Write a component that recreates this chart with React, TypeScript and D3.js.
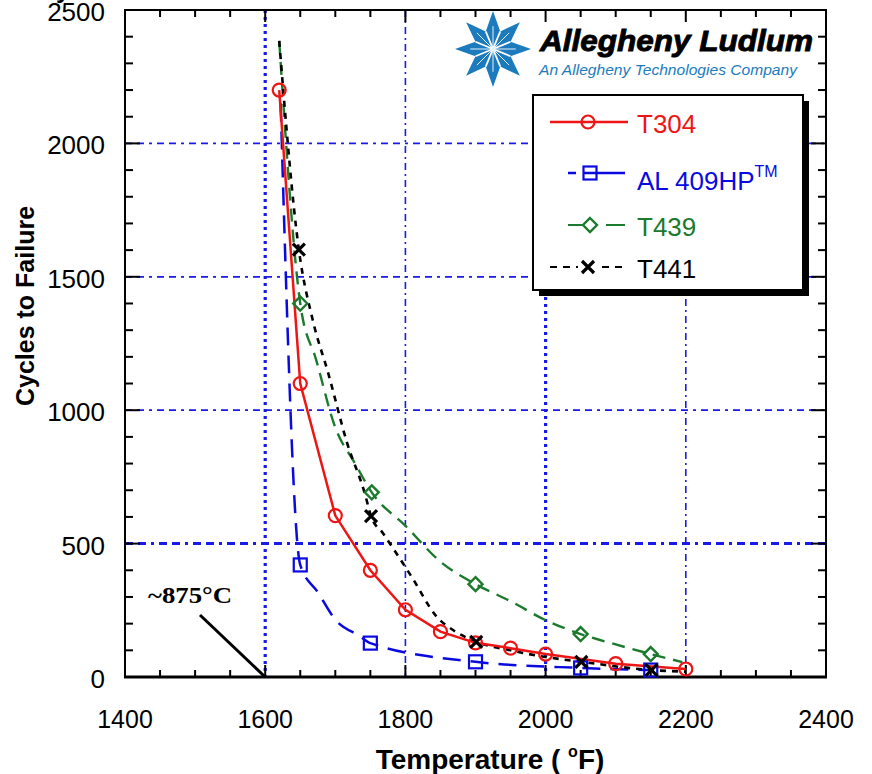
import React from 'react';
import * as d3 from 'd3';

const W = 872, H = 774;
const L = 125, R = 826, T = 10, B = 677;

const xTicks = [1400, 1600, 1800, 2000, 2200, 2400];
const yTicks = [0, 500, 1000, 1500, 2000, 2500];
const xGrid = [1600, 1800, 2000, 2200];
const yGrid = [500, 1000, 1500, 2000];

// T304
const t304Temp = [1620, 1650, 1700, 1750, 1800, 1850, 1900, 1950, 2000, 2100, 2200];
const t304Cycles = [2200, 1100, 605, 400, 252, 170, 128, 108, 86, 50, 30];

// AL 409HP
const al409Temp = [1622, 1650, 1675, 1700, 1735, 1750, 1900, 2050, 2150];
const al409Cycles = [2150, 420, 318, 215, 153, 127, 57, 34, 26];
const al409Marked = [false, true, false, false, false, true, true, true, true];

// T439
const t439Temp = [1620, 1650, 1673, 1700, 1728, 1752, 1800, 1850, 1900, 1950, 2000, 2050, 2100, 2150, 2195];
const t439Cycles = [2384, 1400, 1186, 935, 801, 692, 567, 432, 348, 284, 213, 161, 122, 86, 56];
const t439Marked = [false, true, false, false, false, true, false, false, true, false, false, true, false, true, false];

// T441
const t441Temp = [1620, 1648, 1668, 1690, 1717, 1742, 1751, 1768, 1809, 1845, 1868, 1901, 1950, 2000, 2051, 2151, 2200];
const t441Cycles = [2384, 1602, 1336, 1138, 876, 689, 603, 539, 375, 225, 176, 132, 100, 75, 57, 26, 20];
const t441Marked = [false, true, false, false, false, false, true, false, false, false, false, true, false, false, true, true, false];

const RED = '#ee1515';
const BLUE = '#0a0ae0';
const GREEN = '#1c7a2c';
const GRID = '#1a1ae8';
const LOGO = '#1b7bbd';

const x = d3.scaleLinear().domain([1400, 2400]).range([L, R]);
const y = d3.scaleLinear().domain([0, 2500]).range([B, T]);

function pts(t: number[], c: number[]) {
  return t.map((v, i) => [x(v), y(c[i])] as [number, number]);
}

const circle = (cx: number, cy: number, col: string, k: string) => (
  <circle key={k} cx={cx} cy={cy} r={6.5} fill="none" stroke={col} strokeWidth={2.2} />
);
const square = (cx: number, cy: number, col: string, k: string) => (
  <rect key={k} x={cx - 6.5} y={cy - 6.5} width={13} height={13} fill="none" stroke={col} strokeWidth={2.2} />
);
const diamond = (cx: number, cy: number, col: string, k: string) => (
  <path key={k} d={`M${cx},${cy - 7}L${cx + 7},${cy}L${cx},${cy + 7}L${cx - 7},${cy}Z`} fill="none" stroke={col} strokeWidth={2.4} />
);
const cross = (cx: number, cy: number, col: string, k: string) => (
  <path key={k} d={`M${cx - 6},${cy - 6}L${cx + 6},${cy + 6}M${cx - 6},${cy + 6}L${cx + 6},${cy - 6}`} fill="none" stroke={col} strokeWidth={3.2} />
);

function Star({ cx, cy, r }: { cx: number; cy: number; r: number }) {
  const n = 8;
  const ri = r * 0.5;
  const verts: string[] = [];
  const inner: [number, number][] = [];
  for (let i = 0; i < n * 2; i++) {
    const a = (Math.PI * i) / n - Math.PI / 2;
    const rr = i % 2 === 0 ? r : ri;
    verts.push(`${cx + rr * Math.cos(a)},${cy + rr * Math.sin(a)}`);
    if (i % 2 === 1) inner.push([cx + rr * Math.cos(a), cy + rr * Math.sin(a)]);
  }
  const tips: [number, number][] = [];
  for (let i = 0; i < n; i++) {
    const a = (2 * Math.PI * i) / n - Math.PI / 2;
    tips.push([cx + r * 0.6 * Math.cos(a), cy + r * 0.6 * Math.sin(a)]);
  }
  return (
    <g>
      <polygon points={verts.join(' ')} fill={LOGO} />
      {inner.map((p, i) => (
        <line key={'i' + i} x1={cx} y1={cy} x2={p[0]} y2={p[1]} stroke="#fff" strokeWidth={1.8} />
      ))}
      {tips.map((p, i) => (
        <line key={'t' + i} x1={cx} y1={cy} x2={p[0]} y2={p[1]} stroke="#e6f2fa" strokeWidth={1} />
      ))}
    </g>
  );
}

export default function App() {
  const lin = d3.line().curve(d3.curveLinear);
  const mono = d3.line().curve(d3.curveMonotoneX);

  const redP = pts(t304Temp, t304Cycles);
  const blueP = pts(al409Temp, al409Cycles);
  const greenP = pts(t439Temp, t439Cycles);
  const blackP = pts(t441Temp, t441Cycles);

  const xMinor = d3.range(1400, 2401, 50);
  const yMinor = d3.range(0, 2501, 100);

  const font = "'Liberation Sans', Arial, sans-serif";

  return (
    <svg width={W} height={H} style={{ position: 'absolute', left: 0, top: 0, background: '#fff' }} fontFamily={font}>
      <rect x={0} y={0} width={W} height={H} fill="#fff" />

      {/* grid */}
      {xGrid.map((v) => {
        const heavy = v === 1600 || v === 2000;
        return (
          <line key={'xg' + v} x1={x(v)} x2={x(v)} y1={T} y2={B} stroke={GRID}
            strokeWidth={heavy ? 3.2 : 1.6} strokeDasharray={heavy ? '3,4' : '7,4,2,4'} />
        );
      })}
      {yGrid.map((v) => {
        const heavy = v === 500;
        return (
          <line key={'yg' + v} x1={L} x2={R} y1={y(v)} y2={y(v)} stroke={GRID}
            strokeWidth={heavy ? 3 : 1.8} strokeDasharray={heavy ? '8,5,8,5,3,5' : '7,5,7,5,3,5'} />
        );
      })}

      {/* logo */}
      <rect x={447} y={T + 1} width={R - 448} height={82} fill="#fff" />
      <Star cx={493} cy={49} r={38} />
      <text x={540} y={51} fontSize={30} fontWeight="bold" fontStyle="italic" fill="#000" stroke="#000" strokeWidth={0.9}
        textLength={273} lengthAdjust="spacingAndGlyphs">Allegheny Ludlum</text>
      <text x={539} y={75} fontSize={14.5} fontStyle="italic" fill={LOGO}
        textLength={258} lengthAdjust="spacingAndGlyphs">An Allegheny Technologies Company</text>

      {/* legend */}
      <rect x={539} y={101} width={270} height={195} fill="#000" />
      <rect x={533} y={95} width={270} height={195} fill="#fff" stroke="#000" strokeWidth={2} />
      <g>
        <line x1={550} x2={628} y1={122} y2={122} stroke={RED} strokeWidth={2.5} />
        {circle(588, 122, RED, 'lc')}
        <text x={637} y={133} fontSize={26} fill={RED}>T304</text>

        <line x1={568} x2={576} y1={173} y2={173} stroke={BLUE} strokeWidth={2.5} />
        <line x1={583} x2={625} y1={173} y2={173} stroke={BLUE} strokeWidth={2.5} />
        {square(590, 173, BLUE, 'ls')}
        <text x={637} y={190} fontSize={26} fill={BLUE}>AL 409HP<tspan fontSize={16} dy={-13}>TM</tspan></text>

        <line x1={568} x2={583} y1={225} y2={225} stroke={GREEN} strokeWidth={2} />
        <line x1={606} x2={625} y1={225} y2={225} stroke={GREEN} strokeWidth={2} />
        {diamond(590, 225, GREEN, 'ld')}
        <text x={637} y={236} fontSize={26} fill={GREEN}>T439</text>

        <line x1={550} x2={625} y1={267} y2={267} stroke="#000" strokeWidth={2} strokeDasharray="7,6" />
        <rect x={578} y={259} width={20} height={16} fill="#fff" />
        {cross(588, 267, '#000', 'lx')}
        <text x={637} y={278} fontSize={26} fill="#000">T441</text>
      </g>

      {/* frame and ticks */}
      {xMinor.map((v) => {
        const len = v % 200 === 0 ? 12 : 7;
        return (
          <g key={'xt' + v}>
            <line x1={x(v)} x2={x(v)} y1={B} y2={B - len} stroke="#000" strokeWidth={2} />
            <line x1={x(v)} x2={x(v)} y1={T} y2={T + len} stroke="#000" strokeWidth={2} />
          </g>
        );
      })}
      {yMinor.map((v) => {
        const len = v % 500 === 0 ? 15 : 8;
        return (
          <g key={'yt' + v}>
            <line x1={L} x2={L + len} y1={y(v)} y2={y(v)} stroke="#000" strokeWidth={2} />
            <line x1={R} x2={R - len} y1={y(v)} y2={y(v)} stroke="#000" strokeWidth={2} />
          </g>
        );
      })}
      <rect x={L} y={T} width={R - L} height={B - T} fill="none" stroke="#000" strokeWidth={2} />
      <line x1={L - 1} x2={R + 1} y1={B} y2={B} stroke="#000" strokeWidth={3} />

      {/* series */}
      <path d={mono(blueP) || ''} fill="none" stroke={BLUE} strokeWidth={2.5} strokeDasharray="18,10" />
      <path d={mono(greenP) || ''} fill="none" stroke={GREEN} strokeWidth={2.4} strokeDasharray="13,8" />
      <path d={mono(blackP) || ''} fill="none" stroke="#000" strokeWidth={2.6} strokeDasharray="6,6" />
      <path d={lin(redP) || ''} fill="none" stroke={RED} strokeWidth={2.5} />

      {blueP.map((p, i) => (al409Marked[i] ? square(p[0], p[1], BLUE, 'bs' + i) : null))}
      {greenP.map((p, i) => (t439Marked[i] ? diamond(p[0], p[1], GREEN, 'gd' + i) : null))}
      {redP.map((p, i) => circle(p[0], p[1], RED, 'rc' + i))}
      {blackP.map((p, i) => (t441Marked[i] ? cross(p[0], p[1], '#000', 'kx' + i) : null))}

      {/* tick labels */}
      {yTicks.map((v) => (
        <text key={'yl' + v} x={105} y={y(v) + 11} fontSize={26} textAnchor="end" fill="#000">{v}</text>
      ))}
      {xTicks.map((v) => (
        <text key={'xl' + v} x={x(v)} y={728} fontSize={25} textAnchor="middle" fill="#000">{v}</text>
      ))}

      <text transform="translate(34,306) rotate(-90)" fontSize={25} fontWeight="bold" textAnchor="middle" fill="#000">Cycles to Failure</text>
      <text x={490} y={769} fontSize={28} fontWeight="bold" textAnchor="middle" fill="#000">
        Temperature ( <tspan fontSize={16} dy={-12}>o</tspan><tspan dy={12}>F)</tspan>
      </text>
      <text x={56} y={-2} fontSize={26} fontWeight="bold" fill="#000">y</text>

      {/* annotation */}
      <text x={148} y={603} fontSize={23} fontWeight="bold" fontFamily="'Liberation Serif', 'Times New Roman', serif" fill="#000"
        textLength={84} lengthAdjust="spacingAndGlyphs">~875°C</text>
      <line x1={200} y1={615} x2={x(1600)} y2={B} stroke="#000" strokeWidth={3} />
    </svg>
  );
}
